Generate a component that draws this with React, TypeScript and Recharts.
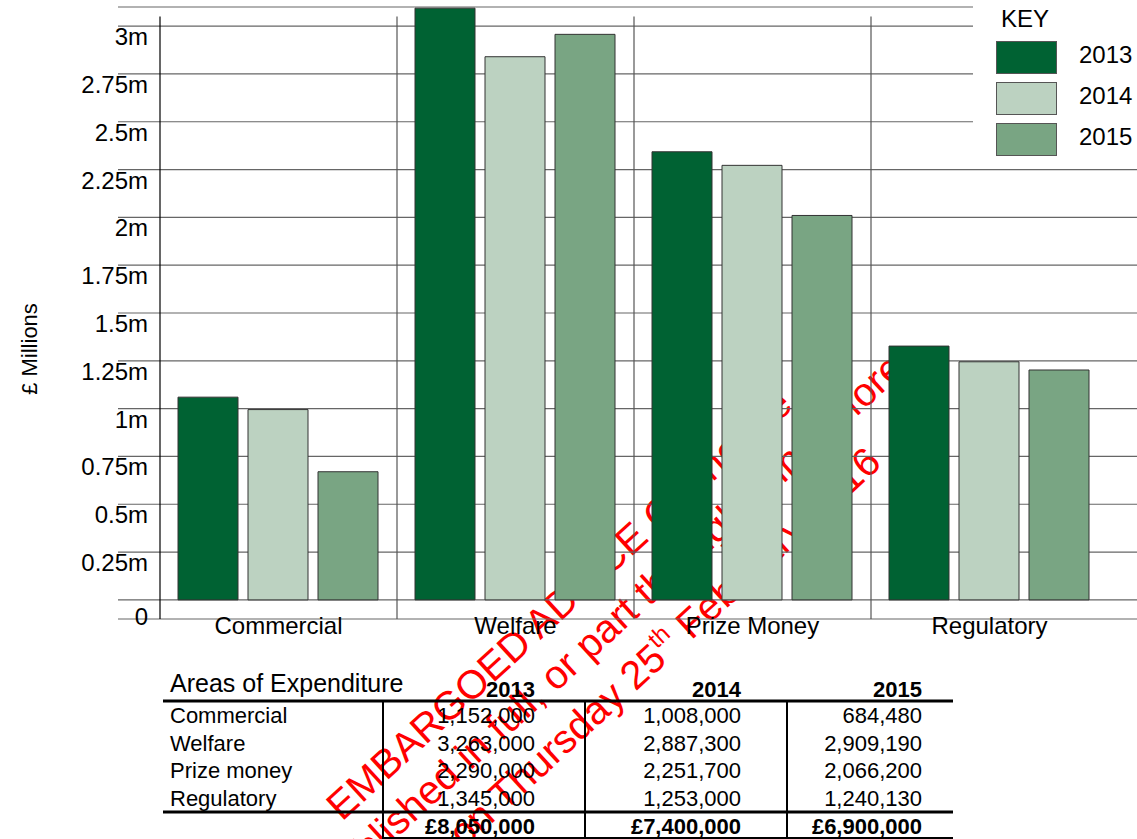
import React from 'react';
import {
  BarChart,
  Bar,
  XAxis,
  YAxis,
  CartesianGrid,
  Legend,
  ReferenceLine,
} from 'recharts';

// chart categories and series (bar heights as drawn, in £m)
const categories = ['Commercial', 'Welfare', 'Prize Money', 'Regulatory'];
const years = ['2013', '2014', '2015'];
const bars2013 = [1.06, 3.094, 2.343, 1.327];
const bars2014 = [0.995, 2.84, 2.272, 1.245];
const bars2015 = [0.67, 2.957, 2.01, 1.202];
const yTicks = [0, 0.25, 0.5, 0.75, 1, 1.25, 1.5, 1.75, 2, 2.25, 2.5, 2.75, 3];

// expenditure table underneath the chart
const tableRows = ['Commercial', 'Welfare', 'Prize money', 'Regulatory'];
const table2013 = [1152000, 3263000, 2290000, 1345000];
const table2014 = [1008000, 2887300, 2251700, 1253000];
const table2015 = [684480, 2909190, 2066200, 1240130];

const watermarkLines = [
  'EMBARGOED ADVICE Cannot be',
  'published in full, or part through print before',
  'on Thursday 25',
];

const COLORS = ['#006233', '#BCD2C1', '#79A583'];
const FONT = "'Liberation Sans', Arial, sans-serif";

const chartData = categories.map((name, i) => ({
  name,
  y2013: bars2013[i],
  y2014: bars2014[i],
  y2015: bars2015[i],
}));

const fmt = (n: number) => String(n).replace(/\B(?=(\d{3})+(?!\d))/g, ',');

const ValueTick = (props: any) => {
  const { y, payload } = props;
  const v = payload.value;
  return (
    <text x={148} y={y + (v === 0 ? 25 : 19)} textAnchor="end" fontSize={24} fill="#000" fontFamily={FONT}>
      {v === 0 ? '0' : `${v}m`}
    </text>
  );
};

const CategoryTick = (props: any) => {
  const { x, y, payload } = props;
  return (
    <text x={x} y={y + 15} textAnchor="middle" fontSize={24} fill="#000" fontFamily={FONT}>
      {payload.value}
    </text>
  );
};

const YTitle = (props: any) => {
  const { viewBox } = props;
  const cx = viewBox.x + 29;
  const cy = viewBox.y + viewBox.height / 2 + 36;
  return (
    <text
      x={cx}
      y={cy}
      textAnchor="middle"
      dominantBaseline="central"
      transform={`rotate(-90, ${cx}, ${cy})`}
      fontSize={22}
      fill="#000"
      fontFamily={FONT}
    >
      £ Millions
    </text>
  );
};

const KeyLegend = (props: any) => {
  const { payload = [] } = props;
  return (
    <div style={{ position: 'relative', width: 164, height: 165, background: '#fff', fontFamily: FONT, fontSize: 24, lineHeight: '24px', color: '#000' }}>
      <div style={{ position: 'absolute', left: 28, top: 7 }}>KEY</div>
      {payload.map((p: any, i: number) => (
        <React.Fragment key={p.value}>
          <div
            style={{
              position: 'absolute',
              left: 23,
              top: 41 + i * 41,
              width: 59,
              height: 31,
              background: p.color,
              border: '1px solid #555',
            }}
          />
          <div style={{ position: 'absolute', left: 106, top: 43 + i * 41 }}>{p.value}</div>
        </React.Fragment>
      ))}
    </div>
  );
};

const Watermark = () => (
  <svg width={1137} height={839} style={{ position: 'absolute', left: 0, top: 0, zIndex: 0 }}>
    <g fill="#ff0000" fontFamily={FONT} fontSize={40}>
      <text x={342} y={822} transform="rotate(-42.5, 342, 822)">{watermarkLines[0]}</text>
      <text x={336} y={894} transform="rotate(-42.5, 336, 894)">{watermarkLines[1]}</text>
      <text x={464} y={849} transform="rotate(-42.5, 464, 849)">
        {watermarkLines[2]}
        <tspan fontSize={24} dy={-17}>th</tspan>
        <tspan dy={17}> February 2016</tspan>
      </text>
    </g>
  </svg>
);

const ExpenditureTable = () => {
  const cols = [table2013, table2014, table2015];
  const colRight = [535, 741, 922];
  const rowY = (i: number) => 723 + i * 27.7;
  return (
    <svg width={1137} height={839} style={{ position: 'absolute', left: 0, top: 0, zIndex: 2 }}>
      <g fontFamily={FONT} fill="#000">
        <text x={170} y={692} fontSize={25}>Areas of Expenditure</text>
        {years.map((yr, c) => (
          <text key={yr} x={colRight[c]} y={697} fontSize={22} fontWeight="bold" textAnchor="end">
            {yr}
          </text>
        ))}
        {tableRows.map((r, i) => (
          <g key={r}>
            <text x={170} y={rowY(i)} fontSize={22}>{r}</text>
            {cols.map((col, c) => (
              <text key={c} x={colRight[c]} y={rowY(i)} fontSize={22} textAnchor="end">
                {fmt(col[i])}
              </text>
            ))}
          </g>
        ))}
        {cols.map((col, c) => (
          <text key={c} x={colRight[c]} y={834} fontSize={22} fontWeight="bold" textAnchor="end">
            £{fmt(col.reduce((a, b) => a + b, 0))}
          </text>
        ))}
      </g>
      <g stroke="#000">
        <line x1={163} y1={701} x2={953} y2={701} strokeWidth={3} />
        <line x1={163} y1={812} x2={953} y2={812} strokeWidth={3} />
        <line x1={383} y1={838} x2={953} y2={838} strokeWidth={2} />
        {[383, 585, 787].map((x) => (
          <line key={x} x1={x} y1={701} x2={x} y2={839} strokeWidth={2} />
        ))}
      </g>
    </svg>
  );
};

export default function App() {
  return (
    <div style={{ position: 'absolute', left: 0, top: 0, width: 1137, height: 839, background: '#fff' }}>
      <Watermark />
      <div style={{ position: 'absolute', left: 0, top: 0, zIndex: 1 }}>
        <BarChart
          width={1137}
          height={660}
          data={chartData}
          margin={{ top: 7, right: 0, bottom: 11, left: 0 }}
          barCategoryGap={18}
          barGap={10}
        >
          <CartesianGrid horizontal vertical={false} stroke="#666" strokeWidth={1.2} />
          <XAxis
            dataKey="name"
            padding={{ left: 42, right: 29 }}
            axisLine={false}
            tickLine={false}
            tickSize={0}
            tickMargin={0}
            height={30}
            interval={0}
            tick={<CategoryTick />}
          />
          <YAxis
            domain={[-0.1, 3.1]}
            ticks={yTicks}
            width={118}
            axisLine={false}
            tickLine={false}
            tickSize={0}
            tickMargin={0}
            tick={<ValueTick />}
            label={<YTitle />}
          />
          {categories.map((c, i) => (
            <ReferenceLine
              key={c}
              segment={[{ x: c, y: 3.05 }, { x: c, y: -0.1 }]}
              position="start"
              stroke={i === 0 ? '#000' : '#555'}
              strokeWidth={1.2}
              ifOverflow="visible"
            />
          ))}
          <Legend
            layout="vertical"
            verticalAlign="middle"
            align="center"
            content={<KeyLegend />}
            wrapperStyle={{ left: 973, top: 0, width: 164, height: 165 }}
          />
          <Bar dataKey="y2013" name={years[0]} fill={COLORS[0]} stroke="#333" strokeWidth={1} isAnimationActive={false} />
          <Bar dataKey="y2014" name={years[1]} fill={COLORS[1]} stroke="#333" strokeWidth={1} isAnimationActive={false} />
          <Bar dataKey="y2015" name={years[2]} fill={COLORS[2]} stroke="#333" strokeWidth={1} isAnimationActive={false} />
        </BarChart>
      </div>
      <ExpenditureTable />
    </div>
  );
}
